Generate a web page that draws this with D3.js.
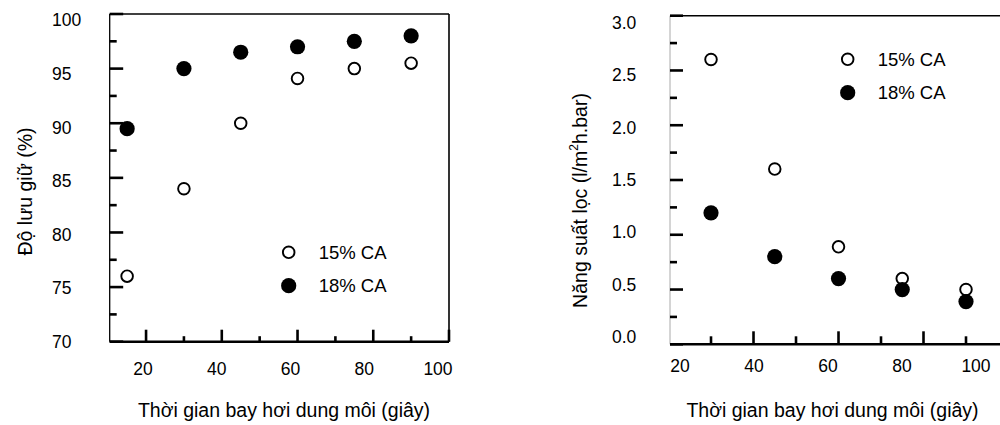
<!DOCTYPE html>
<html>
<head>
<meta charset="utf-8">
<script src="https://cdn.jsdelivr.net/npm/d3@7"></script>
<style>
  html, body { margin: 0; padding: 0; background: #fff; }
  svg { display: block; font-family: "Liberation Sans", Arial, sans-serif; }
</style>
</head>
<body>
<div id="chart"></div>
<script>
const seriesNames = ['15% CA', '18% CA'];

const timeLeft = [15, 30, 45, 60, 75, 90];
const retention15 = [76, 84, 90, 94.1, 95, 95.5];
const retention18 = [89.5, 95, 96.5, 97, 97.5, 98];

const timeRight = [30, 45, 60, 75, 90];
const flux15 = [2.6, 1.6, 0.89, 0.6, 0.5];
const flux18 = [1.2, 0.8, 0.6, 0.5, 0.39];

const xTickLabels = [20, 40, 60, 80, 100];
const yTickLabelsLeft = [70, 75, 80, 85, 90, 95, 100];
const yTickLabelsRight = [0, 0.5, 1, 1.5, 2, 2.5, 3];

(function() {
    const svg = d3.select('#chart')
        .append('svg')
        .attr('width', 1000)
        .attr('height', 425);

    const tickFont = '17.5px';
    const legendFont = '18.5px';
    const titleFont = '19.5px';

    function panel(opt) {
        const g = svg.append('g');
        const x = d3.scaleLinear().domain(opt.xDomain).range(opt.xRange);
        const y = d3.scaleLinear().domain(opt.yDomain).range(opt.yRange);
        // the original figure places its tick labels a little off the tick marks
        const xLab = d3.scaleLinear().domain([20, 100]).range(opt.xLabelRange);
        const yLab = d3.scaleLinear().domain(opt.yDomain).range(opt.yLabelRange);

        const [x0, x1] = opt.xRange;
        const [yb, yt] = opt.yRange;

        // frame
        g.append('line').attr('x1', x0).attr('x2', x1).attr('y1', yt).attr('y2', yt)
            .attr('stroke', '#000').attr('stroke-width', 1.6);
        if (opt.rightBorder) {
            g.append('line').attr('x1', x1).attr('x2', x1).attr('y1', yt).attr('y2', yb)
                .attr('stroke', '#000').attr('stroke-width', 1.6);
        }
        g.append('line').attr('x1', x0).attr('x2', x0).attr('y1', yt).attr('y2', yb)
            .attr('stroke', opt.leftColor).attr('stroke-width', opt.leftWidth);
        g.append('line').attr('x1', x0).attr('x2', x1).attr('y1', yb).attr('y2', yb)
            .attr('stroke', '#000').attr('stroke-width', 2.6);

        // y ticks (inward)
        opt.yMajor.forEach(function(v) {
            g.append('line').attr('x1', x0).attr('x2', x0 + opt.yMajorLen)
                .attr('y1', y(v)).attr('y2', y(v))
                .attr('stroke', '#000').attr('stroke-width', 2.6);
        });
        opt.yMinor.forEach(function(v) {
            g.append('line').attr('x1', x0).attr('x2', x0 + opt.yMinorLen)
                .attr('y1', y(v)).attr('y2', y(v))
                .attr('stroke', '#000').attr('stroke-width', 2.6);
        });

        // x ticks (inward)
        opt.xMajor.forEach(function(v) {
            g.append('line').attr('x1', x(v)).attr('x2', x(v))
                .attr('y1', yb).attr('y2', yb - opt.xMajorLen)
                .attr('stroke', '#000').attr('stroke-width', 2.6);
        });
        opt.xMinor.forEach(function(v) {
            g.append('line').attr('x1', x(v)).attr('x2', x(v))
                .attr('y1', yb).attr('y2', yb - opt.xMinorLen)
                .attr('stroke', '#000').attr('stroke-width', 2.6);
        });

        // tick labels
        g.selectAll('.ylab')
            .data(opt.yLabels)
            .enter()
            .append('text')
            .attr('x', opt.yLabelX)
            .attr('y', d => yLab(d))
            .attr('dy', '0.36em')
            .attr('font-size', tickFont)
            .attr('fill', '#000')
            .text(opt.yFormat);

        g.selectAll('.xlab')
            .data(xTickLabels)
            .enter()
            .append('text')
            .attr('x', d => xLab(d))
            .attr('y', opt.xLabelY)
            .attr('dy', '0.36em')
            .attr('text-anchor', 'middle')
            .attr('font-size', tickFont)
            .attr('fill', '#000')
            .text(d => d);

        // points: open first, filled on top
        g.selectAll('.open')
            .data(opt.times.map((t, i) => [t, opt.s15[i]]))
            .enter()
            .append('circle')
            .attr('cx', d => x(d[0]))
            .attr('cy', d => y(d[1]))
            .attr('r', 5.8)
            .attr('fill', '#fff')
            .attr('stroke', '#000')
            .attr('stroke-width', 1.9);

        g.selectAll('.filled')
            .data(opt.times.map((t, i) => [t, opt.s18[i]]))
            .enter()
            .append('circle')
            .attr('cx', d => x(d[0]))
            .attr('cy', d => y(d[1]))
            .attr('r', 7.6)
            .attr('fill', '#000');

        // legend
        seriesNames.forEach(function(name, i) {
            const ly = opt.legend.y + i * opt.legend.gap;
            if (i === 0) {
                g.append('circle').attr('cx', opt.legend.x).attr('cy', ly).attr('r', 5.8)
                    .attr('fill', '#fff').attr('stroke', '#000').attr('stroke-width', 1.9);
            } else {
                g.append('circle').attr('cx', opt.legend.x).attr('cy', ly).attr('r', 7.6)
                    .attr('fill', '#000');
            }
            g.append('text')
                .attr('x', opt.legend.x + 30)
                .attr('y', ly)
                .attr('dy', '0.36em')
                .attr('font-size', legendFont)
                .attr('fill', '#000')
                .text(name);
        });

        // axis titles
        g.append('text')
            .attr('x', opt.xTitleX)
            .attr('y', 417)
            .attr('text-anchor', 'middle')
            .attr('font-size', titleFont)
            .attr('fill', '#000')
            .text('Thời gian bay hơi dung môi (giây)');

        const yt2 = g.append('text')
            .attr('transform', `translate(${opt.yTitle.x},${opt.yTitle.y}) rotate(-90)`)
            .attr('text-anchor', 'middle')
            .attr('font-size', titleFont)
            .attr('fill', '#000');
        opt.yTitle.parts.forEach(function(p) {
            const t = yt2.append('tspan').text(p.text);
            if (p.sup) t.attr('font-size', '12px').attr('dy', '-0.75em');
            if (p.after) t.attr('dy', '0.48em');
        });
    }

    panel({
        xDomain: [10.4, 100], xRange: [109.7, 449],
        yDomain: [70, 100], yRange: [341.7, 14],
        xLabelRange: [143, 438], yLabelRange: [341.7, 20],
        rightBorder: true, leftColor: '#000', leftWidth: 1.3,
        yMajor: d3.range(70, 101, 5), yMinor: d3.range(72.5, 100, 5),
        yMajorLen: 13.5, yMinorLen: 7,
        xMajor: [20, 40, 60, 80, 100], xMinor: [30, 50, 70, 90],
        xMajorLen: 12, xMinorLen: 5.5,
        yLabels: yTickLabelsLeft, yLabelX: 52, yFormat: d => d,
        xLabelY: 369,
        times: timeLeft, s15: retention15, s18: retention18,
        legend: { x: 288.7, y: 252.3, gap: 33.4 },
        xTitleX: 284,
        yTitle: { x: 31.5, y: 191.5, parts: [{ text: 'Độ lưu giữ (%)' }] }
    });

    panel({
        xDomain: [20.35, 98], xRange: [670, 1000],
        yDomain: [0, 3], yRange: [344.3, 15.7],
        xLabelRange: [680, 976], yLabelRange: [336.7, 22.5],
        rightBorder: false, leftColor: '#aaa', leftWidth: 1,
        yMajor: d3.range(0, 3.01, 0.5), yMinor: d3.range(0.25, 3, 0.5),
        yMajorLen: 13, yMinorLen: 7,
        xMajor: [40, 60, 80], xMinor: [30, 50, 70, 90],
        xMajorLen: 13, xMinorLen: 8,
        yLabels: yTickLabelsRight, yLabelX: 612, yFormat: d3.format('.1f'),
        xLabelY: 366,
        times: timeRight, s15: flux15, s18: flux18,
        legend: { x: 847.7, y: 59.3, gap: 33.4 },
        xTitleX: 832.5,
        yTitle: { x: 586.5, y: 200.5, parts: [
            { text: 'Năng suất lọc (l/m' },
            { text: '2', sup: true },
            { text: 'h.bar)', after: true }
        ] }
    });
})();
</script>
</body>
</html>
